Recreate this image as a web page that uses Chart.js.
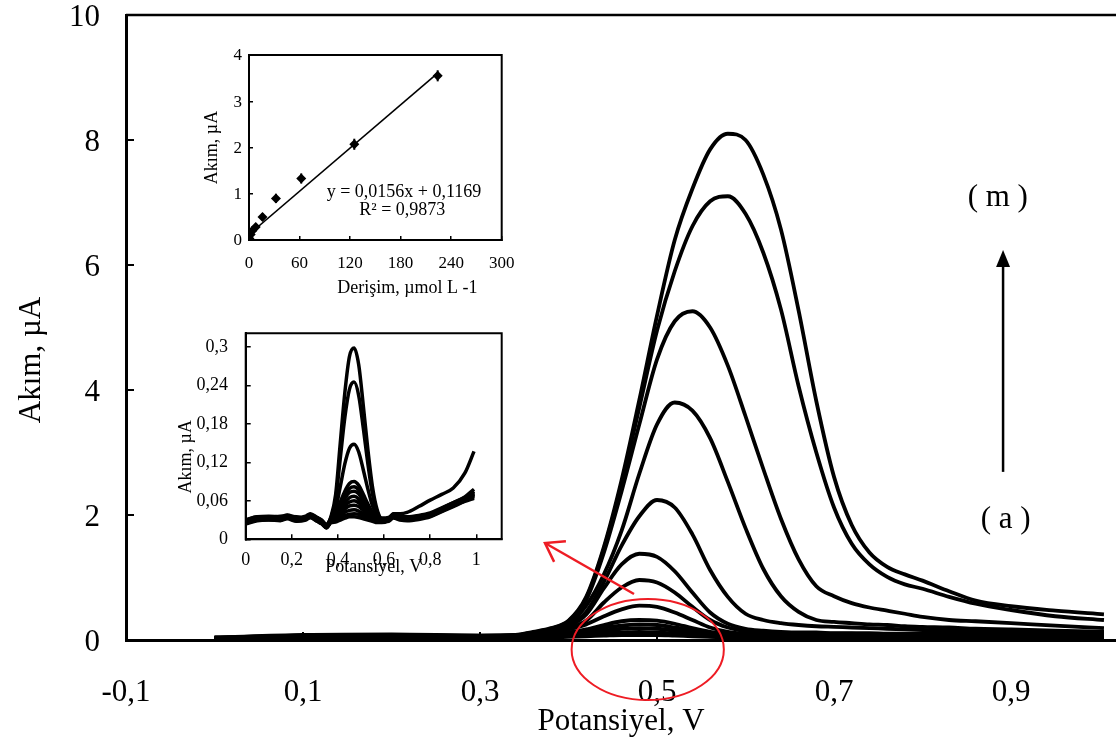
<!DOCTYPE html>
<html><head><meta charset="utf-8">
<script src="https://cdn.jsdelivr.net/npm/chart.js@4.4.1/dist/chart.umd.min.js"></script>
<style>
html,body{margin:0;padding:0;background:#fff;}
#wrap{position:relative;width:1116px;height:747px;overflow:hidden;background:#fff;}
canvas{position:absolute;display:block;}
#main{left:0;top:0;width:1116px;height:747px;}
#cal{left:170px;top:40px;width:350px;height:260px;}
#vol{left:170px;top:320px;width:350px;height:260px;}
</style></head><body>
<div id="wrap">
<canvas id="main" width="1116" height="747"></canvas>
<canvas id="cal" width="350" height="260"></canvas>
<canvas id="vol" width="350" height="260"></canvas>
</div>
<script>
// ---------- main voltammograms (a) ... (m) ----------
const MAIN_X = [0,0.1,0.2,0.3,0.34,0.36,0.38,0.40,0.42,0.44,0.46,0.48,0.50,0.52,0.54,0.56,0.58,0.60,0.62,0.64,0.66,0.68,0.70,0.72,0.74,0.76,0.78,0.80,0.83,0.86,0.90,0.95,1.005];
const CURVE_A = [0.01,0.03,0.04,0.03,0.03,0.04,0.04,0.05,0.06,0.07,0.08,0.08,0.08,0.07,0.06,0.05,0.04,0.04,0.03,0.03,0.03,0.03,0.03,0.03,0.03,0.03,0.03,0.03,0.03,0.03,0.03,0.03,0.03];
const CURVE_B = [0.01,0.04,0.04,0.03,0.04,0.04,0.05,0.07,0.09,0.11,0.12,0.13,0.12,0.10,0.08,0.06,0.05,0.04,0.04,0.04,0.04,0.04,0.04,0.04,0.04,0.04,0.04,0.04,0.04,0.04,0.04,0.04,0.04];
const CURVE_C = [0.02,0.04,0.05,0.04,0.04,0.05,0.07,0.09,0.12,0.15,0.18,0.19,0.18,0.15,0.11,0.08,0.06,0.05,0.05,0.05,0.05,0.05,0.05,0.05,0.05,0.05,0.05,0.05,0.05,0.05,0.05,0.05,0.05];
const CURVE_D = [0.02,0.05,0.05,0.04,0.05,0.06,0.08,0.11,0.15,0.20,0.23,0.25,0.24,0.20,0.15,0.10,0.07,0.06,0.06,0.06,0.06,0.06,0.06,0.06,0.06,0.06,0.06,0.06,0.06,0.06,0.06,0.05,0.05];
const CURVE_E = [0.02,0.05,0.06,0.05,0.05,0.07,0.09,0.12,0.17,0.24,0.30,0.32,0.31,0.26,0.19,0.13,0.09,0.08,0.07,0.07,0.07,0.07,0.07,0.07,0.07,0.07,0.07,0.07,0.07,0.06,0.06,0.06,0.06];
const CURVE_F = [0.02,0.05,0.06,0.05,0.06,0.08,0.12,0.17,0.25,0.38,0.49,0.55,0.53,0.44,0.32,0.20,0.13,0.10,0.09,0.09,0.08,0.08,0.08,0.08,0.08,0.08,0.08,0.08,0.08,0.08,0.07,0.07,0.07];
const CURVE_G = [0.03,0.06,0.07,0.05,0.06,0.09,0.13,0.19,0.31,0.60,0.84,0.96,0.92,0.76,0.53,0.32,0.20,0.14,0.12,0.11,0.10,0.10,0.10,0.10,0.09,0.09,0.09,0.09,0.09,0.09,0.08,0.08,0.08];
const CURVE_H = [0.03,0.06,0.07,0.06,0.06,0.10,0.14,0.22,0.41,0.83,1.21,1.38,1.33,1.10,0.76,0.44,0.26,0.18,0.15,0.13,0.12,0.12,0.11,0.11,0.11,0.10,0.10,0.10,0.10,0.10,0.09,0.09,0.09];
const CURVE_I = [0.03,0.06,0.07,0.06,0.07,0.10,0.15,0.24,0.45,0.93,1.51,1.98,2.24,2.12,1.69,1.12,0.69,0.42,0.32,0.27,0.24,0.22,0.21,0.20,0.19,0.18,0.17,0.16,0.15,0.14,0.13,0.12,0.12];
const CURVE_J = [0.03,0.06,0.07,0.06,0.07,0.11,0.15,0.26,0.55,1.05,1.75,2.66,3.45,3.80,3.67,3.23,2.53,1.79,1.14,0.70,0.45,0.32,0.29,0.27,0.25,0.24,0.22,0.21,0.20,0.18,0.17,0.15,0.13];
const CURVE_K = [0.03,0.07,0.08,0.06,0.07,0.12,0.17,0.29,0.64,1.40,2.38,3.45,4.49,5.10,5.26,5.00,4.39,3.58,2.74,1.94,1.29,0.86,0.70,0.59,0.52,0.47,0.42,0.37,0.32,0.30,0.27,0.23,0.19];
const CURVE_L = [0.04,0.07,0.08,0.07,0.08,0.12,0.18,0.30,0.67,1.46,2.50,3.72,4.95,5.90,6.62,7.02,7.10,6.82,6.20,5.29,4.06,3.00,2.12,1.54,1.21,1.01,0.89,0.82,0.69,0.58,0.48,0.38,0.32];
const CURVE_M = [0.04,0.08,0.09,0.07,0.08,0.13,0.19,0.31,0.69,1.49,2.56,3.84,5.19,6.40,7.22,7.85,8.10,8.00,7.45,6.57,5.27,3.82,2.61,1.84,1.40,1.17,1.05,0.95,0.78,0.63,0.54,0.47,0.41];
const MAIN_CURVES = [CURVE_A,CURVE_B,CURVE_C,CURVE_D,CURVE_E,CURVE_F,CURVE_G,CURVE_H,CURVE_I,CURVE_J,CURVE_K,CURVE_L,CURVE_M];
const MAIN_X_TICKS = [-0.1,0.1,0.3,0.5,0.7,0.9];
const MAIN_X_LABELS = ['-0,1','0,1','0,3','0,5','0,7','0,9'];
const MAIN_Y_TICKS = [0,2,4,6,8,10];
const MAIN_Y_LABELS = ['0','2','4','6','8','10'];

// ---------- calibration inset ----------
const CAL_CONC = [0.5,2,4,8,16,32,62,125,224];
const CAL_CURRENT = [0.03,0.12,0.20,0.28,0.50,0.90,1.33,2.07,3.55];
const CAL_ERR = [0.04,0.05,0.06,0.07,0.08,0.10,0.11,0.12,0.12];
const CAL_FIT_X = [0,224];
const CAL_FIT_Y = [0.12,3.61];
const CAL_X_TICKS = [0,60,120,180,240,300];
const CAL_X_LABELS = ['0','60','120','180','240','300'];
const CAL_Y_TICKS = [0,1,2,3,4];
const CAL_Y_LABELS = ['0','1','2','3','4'];

// ---------- low-concentration voltammogram inset ----------
const VOLT_X = [0,0.05,0.1,0.15,0.18,0.22,0.26,0.28,0.31,0.33,0.35,0.37,0.39,0.41,0.43,0.45,0.47,0.49,0.51,0.53,0.55,0.57,0.59,0.62,0.64,0.67,0.70,0.75,0.80,0.85,0.90,0.95,0.99];
const VOLT_1 = [.030,.035,.036,.035,.038,.034,.036,.040,.034,.030,.023,.036,.070,.150,.229,.285,.298,.272,.208,.139,.081,.046,.033,.034,.039,.036,.035,.037,.041,.049,.057,.065,.075];
const VOLT_2 = [.029,.034,.035,.034,.037,.033,.035,.039,.033,.029,.022,.034,.062,.126,.190,.234,.245,.224,.173,.117,.070,.043,.032,.033,.038,.035,.034,.036,.040,.048,.056,.064,.074];
const VOLT_3 = [.028,.033,.034,.033,.036,.032,.034,.038,.032,.028,.021,.032,.047,.082,.118,.142,.148,.136,.108,.078,.052,.037,.031,.032,.037,.034,.033,.035,.039,.047,.055,.063,.072];
const VOLT_4 = [.030,.035,.034,.036,.036,.035,.033,.038,.034,.029,.023,.033,.040,.058,.075,.087,.090,.084,.070,.055,.042,.035,.032,.033,.039,.036,.034,.036,.040,.048,.057,.066,.078];
const VOLT_5 = [.027,.032,.033,.032,.035,.031,.033,.037,.031,.027,.020,.031,.037,.053,.068,.079,.082,.077,.064,.051,.039,.033,.030,.031,.036,.033,.032,.034,.038,.046,.054,.062,.070];
const VOLT_6 = [.029,.033,.035,.032,.037,.032,.035,.038,.032,.028,.022,.031,.037,.050,.064,.073,.075,.071,.060,.049,.039,.033,.031,.032,.037,.034,.033,.035,.039,.047,.055,.063,.071];
const VOLT_7 = [.026,.031,.032,.031,.034,.030,.032,.036,.030,.026,.019,.029,.034,.046,.057,.065,.067,.063,.054,.044,.036,.031,.029,.030,.035,.032,.031,.033,.037,.045,.053,.061,.068];
const VOLT_8 = [.028,.033,.032,.033,.035,.032,.034,.036,.031,.027,.021,.030,.034,.043,.052,.058,.060,.057,.050,.042,.035,.032,.030,.031,.036,.033,.032,.034,.038,.046,.054,.062,.070];
const VOLT_9 = [.025,.030,.031,.030,.033,.029,.031,.035,.029,.025,.018,.028,.032,.039,.047,.052,.053,.051,.045,.038,.033,.029,.028,.029,.034,.031,.030,.032,.036,.044,.052,.060,.066];
const VOLT_10 = [.027,.032,.031,.032,.034,.030,.033,.035,.030,.026,.020,.029,.031,.036,.042,.045,.046,.044,.040,.036,.032,.030,.029,.030,.035,.032,.031,.033,.037,.045,.053,.061,.068];
const VOLT_11 = [.024,.029,.030,.029,.032,.028,.030,.034,.028,.024,.018,.027,.029,.033,.037,.039,.040,.039,.036,.032,.029,.028,.027,.028,.033,.030,.029,.031,.035,.043,.051,.059,.064];
const VOLT_12 = [.025,.030,.031,.030,.033,.029,.031,.034,.028,.024,.018,.026,.027,.030,.033,.035,.035,.034,.032,.030,.028,.026,.026,.030,.040,.040,.042,.051,.061,.070,.080,.103,.137];
const VOLT_CURVES = [VOLT_1,VOLT_2,VOLT_3,VOLT_4,VOLT_5,VOLT_6,VOLT_7,VOLT_8,VOLT_9,VOLT_10,VOLT_11,VOLT_12];
const VOLT_X_TICKS = [0,0.2,0.4,0.6,0.8,1];
const VOLT_X_LABELS = ['0','0,2','0,4','0,6','0,8','1'];
const VOLT_Y_TICKS = [0,0.06,0.12,0.18,0.24,0.3];
const VOLT_Y_LABELS = ['0','0,06','0,12','0,18','0,24','0,3'];

// ---------- helpers ----------
const SERIF = "'Liberation Serif','Times New Roman',serif";
Chart.defaults.font.family = SERIF;
Chart.defaults.color = '#000';
Chart.defaults.animation = false;
Chart.defaults.plugins.legend.display = false;
Chart.defaults.plugins.tooltip.enabled = false;

function fitTo(size){
  return s => {
    if (s.isHorizontal()) s.height = size; else s.width = size;
    s.paddingLeft = 0; s.paddingRight = 0; s.paddingTop = 0; s.paddingBottom = 0;
  };
}
function axis(o){
  return {
    type:'linear', min:o.min, max:o.max, position:o.position,
    afterBuildTicks: s => { s.ticks = o.ticks.map(v => ({value:v})); },
    afterFit: fitTo(o.fit),
    ticks:{autoSkip:false, maxRotation:0, minRotation:0, color:'#000',
      font:{size:o.fontSize, family:SERIF}, padding:o.pad, labelOffset:o.labelOffset || 0,
      callback:(v,i) => o.labels[i]},
    grid:{display:true, drawOnChartArea:false, drawTicks:true, tickLength:-o.tick,
      color:'#000', lineWidth:o.tickWidth, tickWidth:o.tickWidth},
    border:{display:true, color:'#000', width:o.border},
    title:o.title || {display:false}
  };
}
function lines(xs, curves, width){
  return curves.map(arr => ({
    data: xs.map((x,i) => ({x:x, y:arr[i]})),
    borderColor:'#000', backgroundColor:'#000', borderWidth:width,
    pointRadius:0, fill:false, cubicInterpolationMode:'monotone'
  }));
}
// frame + rotated y-axis title (placed like the original, slightly below centre)
const frame = {
  id:'frame',
  afterDraw(chart, args, opts){
    const {ctx, chartArea:a} = chart;
    ctx.save(); ctx.strokeStyle = '#000'; ctx.lineWidth = opts.width || 2;
    ctx.beginPath();
    if (opts.full) { ctx.rect(a.left, a.top, a.right - a.left, a.bottom - a.top); }
    else { ctx.moveTo(a.left, a.top); ctx.lineTo(a.right, a.top); }
    ctx.stroke();
    if (opts.yTitle) {
      ctx.fillStyle = '#000'; ctx.font = opts.yTitle.size + 'px ' + SERIF;
      ctx.textAlign = 'center'; ctx.textBaseline = 'middle';
      ctx.translate(opts.yTitle.x, opts.yTitle.y); ctx.rotate(-Math.PI / 2);
      ctx.fillText(opts.yTitle.text, 0, 0);
    }
    ctx.restore();
  }
};

// ---------- main chart ----------
const annot = {
  id:'annot',
  afterDraw(chart){
    const {ctx, scales:{x, y}} = chart;
    const px = v => x.getPixelForValue(v), py = v => y.getPixelForValue(v);
    ctx.save();
    // red ellipse
    ctx.strokeStyle = '#ee1c24'; ctx.lineWidth = 2;
    const cx = px(0.4895), cy = py(-0.152);
    ctx.beginPath();
    ctx.ellipse(cx, cy, px(0.4895 + 0.086) - cx, py(-0.152) - py(0.656), 0, 0, Math.PI * 2);
    ctx.stroke();
    // red arrow
    const tx = px(0.474), ty = py(0.736), hx = px(0.3734), hy = py(1.552);
    ctx.lineWidth = 2.5;
    ctx.beginPath(); ctx.moveTo(tx, ty); ctx.lineTo(hx, hy); ctx.stroke();
    const ang = Math.atan2(ty - hy, tx - hx);
    ctx.beginPath();
    ctx.moveTo(hx + 21 * Math.cos(ang - 0.6), hy + 21 * Math.sin(ang - 0.6));
    ctx.lineTo(hx, hy);
    ctx.lineTo(hx + 21 * Math.cos(ang + 0.6), hy + 21 * Math.sin(ang + 0.6));
    ctx.stroke();
    // black arrow
    const ax = px(0.891), ay0 = py(2.69), ay1 = py(6.24);
    ctx.strokeStyle = '#000'; ctx.fillStyle = '#000'; ctx.lineWidth = 2.5;
    ctx.beginPath(); ctx.moveTo(ax, ay0); ctx.lineTo(ax, ay1 + 14); ctx.stroke();
    ctx.beginPath(); ctx.moveTo(ax, ay1); ctx.lineTo(ax - 7, ay1 + 17); ctx.lineTo(ax + 7, ay1 + 17); ctx.closePath(); ctx.fill();
    // labels
    ctx.font = '31px ' + SERIF; ctx.textAlign = 'center'; ctx.textBaseline = 'middle';
    ctx.fillText('( m )', px(0.885), py(7.07));
    ctx.fillText('( a )', px(0.894), py(1.92));
    ctx.restore();
  }
};

new Chart(document.getElementById('main'), {
  type:'line',
  data:{datasets: lines(MAIN_X, MAIN_CURVES, 3.8)},
  options:{
    responsive:false, maintainAspectRatio:false,
    layout:{padding:{left:0, right:0, top:15, bottom:0}},
    plugins:{frame:{full:false, width:2.5, yTitle:{text:'Akım, µA', size:31, x:32, y:360}}},
    scales:{
      x: axis({min:-0.1, max:1.0186, ticks:MAIN_X_TICKS, labels:MAIN_X_LABELS, fontSize:31, pad:42, tick:8, tickWidth:2, border:3, fit:107, position:'bottom',
        title:{display:true, text:'Potansiyel, V', color:'#000', font:{size:31, family:SERIF}, padding:{top:0, bottom:7}}}),
      y: axis({min:0, max:10, ticks:MAIN_Y_TICKS, labels:MAIN_Y_LABELS, fontSize:31, pad:34, tick:8, tickWidth:2, border:3, fit:126, position:'left', labelOffset:3})
    }
  },
  plugins:[frame, annot]
});

// ---------- calibration inset ----------
const calDeco = {
  id:'calDeco',
  afterDatasetsDraw(chart){
    const {ctx, scales:{x, y}} = chart;
    ctx.save(); ctx.strokeStyle = '#000'; ctx.lineWidth = 2;
    CAL_CONC.forEach((c, i) => {
      ctx.beginPath();
      ctx.moveTo(x.getPixelForValue(c), y.getPixelForValue(CAL_CURRENT[i] - CAL_ERR[i]));
      ctx.lineTo(x.getPixelForValue(c), y.getPixelForValue(CAL_CURRENT[i] + CAL_ERR[i]));
      ctx.stroke();
    });
    ctx.fillStyle = '#000'; ctx.textAlign = 'center'; ctx.textBaseline = 'middle';
    ctx.font = '18px ' + SERIF;
    ctx.fillText('y = 0,0156x + 0,1169', x.getPixelForValue(184), y.getPixelForValue(1.04));
    ctx.fillText('R² = 0,9873', x.getPixelForValue(182), y.getPixelForValue(0.65));
    ctx.fillText('Derişim, µmol L -1', x.getPixelForValue(188), chart.height - 12);
    ctx.restore();
  }
};
new Chart(document.getElementById('cal'), {
  type:'scatter',
  data:{datasets:[
    {data: CAL_CONC.map((c,i) => ({x:c, y:CAL_CURRENT[i]})), pointStyle:'rectRot', pointRadius:5,
     backgroundColor:'#000', borderColor:'#000', borderWidth:0, showLine:false},
    {data: CAL_FIT_X.map((c,i) => ({x:c, y:CAL_FIT_Y[i]})), showLine:true, borderColor:'#000', borderWidth:1.6, pointRadius:0}
  ]},
  options:{
    responsive:false, maintainAspectRatio:false,
    layout:{padding:{left:0, right:18.3, top:15, bottom:0}},
    plugins:{frame:{full:true, width:2}},
    scales:{
      x: axis({min:0, max:300, ticks:CAL_X_TICKS, labels:CAL_X_LABELS, fontSize:17, pad:17, tick:4, tickWidth:1.5, border:2, fit:60, position:'bottom'}),
      y: axis({min:0, max:4, ticks:CAL_Y_TICKS, labels:CAL_Y_LABELS, fontSize:17, pad:11, tick:4, tickWidth:1.5, border:2, fit:79, position:'left', labelOffset:1,
        title:{display:true, text:'Akım, µA', color:'#000', font:{size:18, family:SERIF}, padding:{top:31, bottom:0}}})
    }
  },
  plugins:[frame, calDeco]
});

// ---------- low-concentration inset ----------
new Chart(document.getElementById('vol'), {
  type:'line',
  data:{datasets: lines(VOLT_X, VOLT_CURVES, 3.5)},
  options:{
    responsive:false, maintainAspectRatio:false,
    layout:{padding:{left:0, right:18.3, top:13.3, bottom:0}},
    plugins:{frame:{full:true, width:2, yTitle:{text:'Akım, µA', size:18, x:16.7, y:136.7}}},
    scales:{
      x: axis({min:0, max:1.11, ticks:VOLT_X_TICKS, labels:VOLT_X_LABELS, fontSize:18, pad:15, tick:5, tickWidth:1.5, border:2, fit:40.7, position:'bottom',
        title:{display:true, text:'Potansiyel, V', color:'#000', font:{size:18, family:SERIF}, padding:{top:0, bottom:2}}}),
      y: axis({min:0, max:0.321, ticks:VOLT_Y_TICKS, labels:VOLT_Y_LABELS, fontSize:18, pad:22.7, tick:5, tickWidth:1.5, border:2, fit:75.7, position:'left'})
    }
  },
  plugins:[frame]
});
</script>
</body></html>
